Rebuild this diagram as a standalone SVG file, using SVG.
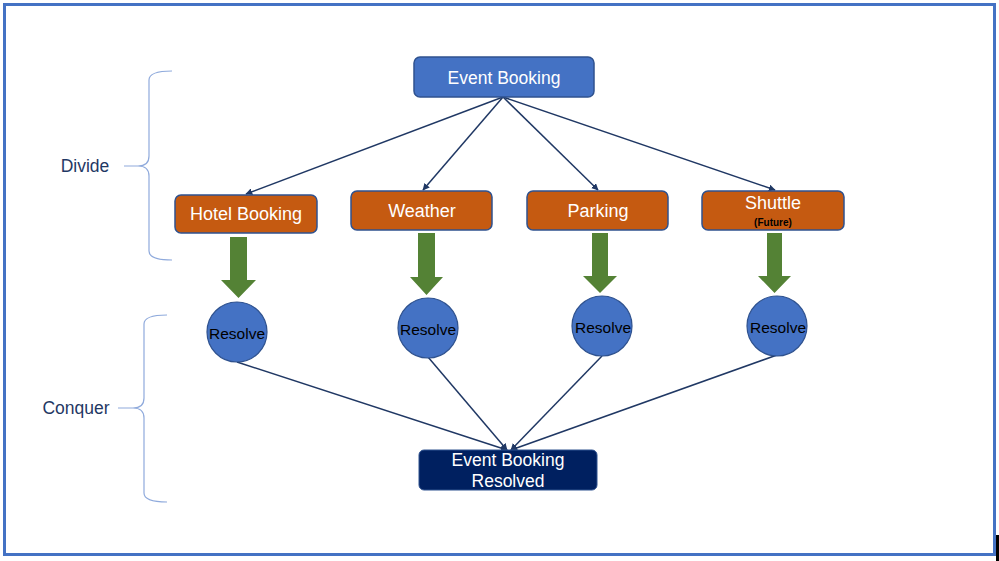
<svg xmlns="http://www.w3.org/2000/svg" width="999" height="561" viewBox="0 0 999 561">
<defs>
<marker id="ah" viewBox="0 0 10 10" refX="9" refY="5" markerWidth="7" markerHeight="7" markerUnits="userSpaceOnUse" orient="auto">
<path d="M0,0 L10,5 L0,10 z" fill="#203864"/>
</marker>
<style>
.t{font-family:"Liberation Sans",Arial,sans-serif;text-anchor:middle;dominant-baseline:central}
.w{fill:#fff;font-size:18px}
.box{stroke:#2F528F;stroke-width:1.5}
.or{fill:#C55A11}
.bl{fill:#4472C4}
.circ{fill:#4472C4;stroke:#2F528F;stroke-width:1.2}
.rs{fill:#000;font-size:15.5px}
.ga{fill:#548235}
.con{stroke:#203864;stroke-width:1.5;fill:none}
.br{stroke:#8FAADC;stroke-width:1.2;fill:none}
.lbl{fill:#1F3864;font-size:17.5px}
</style>
</defs>
<rect x="0" y="0" width="999" height="561" fill="#fff"/>
<rect x="4.5" y="4.5" width="990" height="550" fill="none" stroke="#4472C4" stroke-width="3"/>
<rect x="996" y="535" width="3" height="26" fill="#000"/>

<g id="braces">
<path class="br" d="M172,71 Q149,71 149,80 L149,156 Q149,166 138,166 L124,166 M138,166 Q149,166 149,176 L149,251 Q149,260 172,260"/>
<path class="br" d="M167,315 Q144,315 144,324 L144,398 Q144,408 133,408 L118,408 M133,408 Q144,408 144,418 L144,493 Q144,502 167,502"/>
<text class="t lbl" x="85" y="166">Divide</text>
<text class="t lbl" x="76" y="408">Conquer</text>
</g>

<g id="connectors">
<line class="con" x1="503" y1="97" x2="246" y2="194" marker-end="url(#ah)"/>
<line class="con" x1="503" y1="97" x2="423" y2="190" marker-end="url(#ah)"/>
<line class="con" x1="503" y1="97" x2="598" y2="190" marker-end="url(#ah)"/>
<line class="con" x1="503" y1="97" x2="775" y2="190" marker-end="url(#ah)"/>
<line class="con" x1="237" y1="362" x2="507" y2="450" marker-end="url(#ah)"/>
<line class="con" x1="428" y1="357" x2="507" y2="450" marker-end="url(#ah)"/>
<line class="con" x1="602" y1="356" x2="511" y2="450" marker-end="url(#ah)"/>
<line class="con" x1="777" y1="355" x2="511" y2="450" marker-end="url(#ah)"/>
</g>

<g id="event-booking">
<rect class="box bl" x="414" y="57" width="180" height="40" rx="6"/>
<text class="t w" x="504" y="78" style="font-size:17.5px">Event Booking</text>
</g>

<g id="hotel-booking">
<rect class="box or" x="175" y="195" width="142" height="38" rx="6"/>
<text class="t w" x="246" y="214">Hotel Booking</text>
</g>
<g id="weather">
<rect class="box or" x="351" y="191" width="141" height="39" rx="6"/>
<text class="t w" x="422" y="211">Weather</text>
</g>
<g id="parking">
<rect class="box or" x="527" y="191" width="141" height="39" rx="6"/>
<text class="t w" x="598" y="211">Parking</text>
</g>
<g id="shuttle">
<rect class="box or" x="702" y="191" width="142" height="39" rx="6"/>
<text class="t w" x="773" y="203">Shuttle</text>
<text class="t" x="773" y="222" style="font-size:10px;font-weight:bold;fill:#000">(Future)</text>
</g>

<g id="green-arrows">
<path class="ga" d="M230,237 L247,237 L247,280 L256,280 L238.5,298 L221,280 L230,280 z"/>
<path class="ga" d="M418,233 L435,233 L435,277 L443,277 L426.5,295 L410,277 L418,277 z"/>
<path class="ga" d="M592,233 L608,233 L608,276 L617,276 L600,293 L583,276 L592,276 z"/>
<path class="ga" d="M767,233 L782,233 L782,276 L791,276 L774.5,293 L758,276 L767,276 z"/>
</g>

<g id="resolve-hotel">
<circle class="circ" cx="237" cy="332" r="30"/>
<text class="t rs" x="237" y="333">Resolve</text>
</g>
<g id="resolve-weather">
<circle class="circ" cx="428" cy="328" r="30"/>
<text class="t rs" x="428" y="329">Resolve</text>
</g>
<g id="resolve-parking">
<circle class="circ" cx="602" cy="326" r="30"/>
<text class="t rs" x="603" y="327">Resolve</text>
</g>
<g id="resolve-shuttle">
<circle class="circ" cx="777" cy="326" r="30"/>
<text class="t rs" x="778" y="327">Resolve</text>
</g>

<g id="event-booking-resolved">
<rect x="419" y="450" width="178" height="40" rx="5" fill="#002060" stroke="#2F528F" stroke-width="1"/>
<text class="t" x="508" y="460" style="fill:#fff;font-size:17.5px">Event Booking</text>
<text class="t" x="508" y="481" style="fill:#fff;font-size:17.5px">Resolved</text>
</g>
</svg>
